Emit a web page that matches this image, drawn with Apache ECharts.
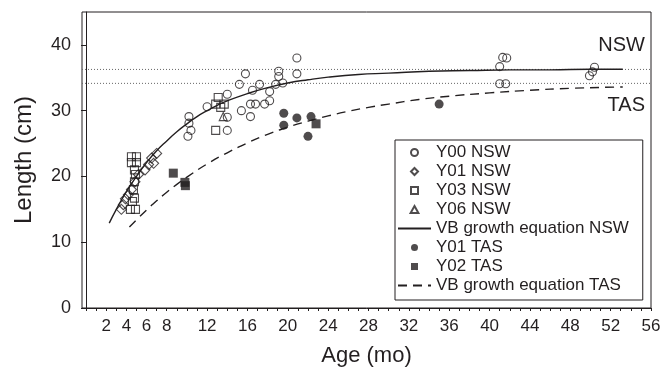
<!DOCTYPE html>
<html>
<head>
<meta charset="utf-8">
<script src="https://cdn.jsdelivr.net/npm/echarts@6/dist/echarts.min.js"></script>
<style>
  body { margin: 0; padding: 0; background: #fff; }
  #chart { width: 664px; height: 372px; }
</style>
</head>
<body>
<div id="chart"></div>
<script>
// Open markers (NSW cohorts): [age (mo), length (cm)]
var y00Nsw = [
  [10.2, 29.1], [10.2, 28.1], [10.4, 27.0], [10.1, 26.1], [12.0, 30.6],
  [14.0, 32.5], [14.0, 27.0], [14.0, 29.0], [15.4, 30.0], [16.3, 31.0],
  [16.8, 31.0], [16.3, 29.1], [17.7, 31.0], [18.2, 31.5], [18.2, 32.9],
  [16.5, 33.1], [15.2, 34.0], [15.8, 35.6], [17.2, 34.0], [18.8, 34.0],
  [19.1, 36.0], [19.1, 35.2], [19.5, 34.2], [20.9, 38.0], [20.9, 35.6],
  [41.3, 38.1], [41.7, 38.0], [41.0, 36.7], [41.0, 34.1], [41.6, 34.1],
  [50.4, 36.6], [50.2, 35.9], [49.9, 35.3]
];
var y01Nsw = [
  [3.5, 15.0], [3.7, 15.7], [3.9, 16.6], [4.2, 17.2], [4.5, 18.0],
  [4.85, 19.2], [5.2, 20.3], [5.85, 21.0], [6.2, 21.8], [6.5, 22.8],
  [6.7, 22.0], [7.0, 23.5]
];
var y03Nsw = [
  [4.5, 23.0], [5.0, 23.0], [4.5, 22.1], [5.0, 22.1], [4.8, 21.0],
  [4.9, 20.3], [4.8, 19.2], [4.7, 18.0], [4.8, 16.7], [4.6, 16.2],
  [4.4, 15.0], [4.9, 15.0], [12.85, 31.0], [13.7, 31.0], [13.1, 32.0],
  [13.35, 30.5], [12.85, 27.0]
];
var y06Nsw = [[13.6, 29.1]];

// Filled markers (TAS cohorts)
var y01Tas = [[19.6, 29.6], [19.6, 27.8], [20.9, 28.9], [22.0, 26.1], [22.3, 29.1], [35.0, 31.0]];
var y02Tas = [[8.65, 20.5], [9.8, 19.1], [9.85, 18.6], [22.8, 28.0]];

// VB growth curves
var nswCurveAge = [2.3, 3, 4, 5, 6, 7, 8, 9, 10, 11, 12, 13, 14, 16, 18, 20, 22, 24, 27, 30, 34, 38, 42, 46, 50, 53.2];
var nswCurveLen = [12.9, 15.0, 17.7, 20.0, 22.1, 23.9, 25.4, 26.8, 28.0, 29.1, 30.0, 30.8, 31.5, 32.6, 33.5, 34.2, 34.7, 35.1, 35.5, 35.7, 36.0, 36.1, 36.2, 36.2, 36.3, 36.3];
var tasCurveAge = [4.3, 5, 6, 7, 8, 9, 10, 12, 14, 16, 18, 20, 22, 24, 26, 28, 30, 33, 36, 40, 44, 48, 53.2];
var tasCurveLen = [12.3, 13.4, 14.9, 16.3, 17.6, 18.8, 19.9, 21.9, 23.6, 25.1, 26.4, 27.5, 28.4, 29.2, 29.9, 30.5, 31.0, 31.7, 32.2, 32.7, 33.1, 33.4, 33.6];

// asymptotes (dotted)
var nswLinf = 36.27;
var tasLinf = 34.15;

var xTickValues = [];
for (var t = 0; t <= 56; t++) xTickValues.push(t);
var xLabelValues = [2, 4, 6, 8, 12, 16, 20, 24, 28, 32, 36, 40, 44, 48, 52, 56];
var yLabelValues = [0, 10, 20, 30, 40];

var INK = '#231f20';
var FONT = 'Liberation Sans, Arial, sans-serif';
var X_MIN = -0.4, X_MAX = 56;

// square-aspect icons for the legend (built-ins get stretched to itemWidth)
var ICON_RECT = 'path://M0,0L10,0L10,10L0,10Z';
var ICON_DIAMOND = 'path://M5,0L10,5L5,10L0,5Z';
var ICON_TRIANGLE = 'path://M5,0L10,9L0,9Z';

function zip(xs, ys) {
  return xs.map(function (x, i) { return [x, ys[i]]; });
}

function openScatter(name, data, symbol, size) {
  return {
    name: name, type: 'scatter', data: data, symbol: symbol, symbolSize: size,
    itemStyle: { color: 'rgba(255,255,255,0)', borderColor: INK, borderWidth: 1.1 },
    z: 4
  };
}
function filledScatter(name, data, symbol, size) {
  return {
    name: name, type: 'scatter', data: data, symbol: symbol, symbolSize: size,
    itemStyle: { color: INK, borderColor: INK, borderWidth: 0 },
    z: 4
  };
}

var chart = echarts.init(document.getElementById('chart'));
chart.setOption({
  animation: false,
  textStyle: { fontFamily: FONT, color: INK },
  grid: {
    left: 82, right: 13, top: 12, bottom: 63,
    show: true, borderColor: INK, borderWidth: 1, backgroundColor: 'transparent'
  },
  xAxis: {
    type: 'value', min: X_MIN, max: X_MAX,
    name: 'Age (mo)', nameLocation: 'middle', nameGap: 37,
    nameTextStyle: { fontSize: 22, color: INK, fontFamily: FONT },
    axisLine: { lineStyle: { color: INK, width: 1 } },
    axisTick: { customValues: xTickValues, length: 3, lineStyle: { color: INK } },
    axisLabel: { customValues: xLabelValues, fontSize: 17, color: INK, margin: 10, fontFamily: FONT },
    splitLine: { show: false }
  },
  yAxis: {
    type: 'value', min: 0, max: 45,
    name: 'Length (cm)', nameLocation: 'middle', nameGap: 46,
    nameTextStyle: { fontSize: 24, color: INK, fontFamily: FONT },
    axisLine: { show: true, lineStyle: { color: INK, width: 1 } },
    axisTick: { customValues: yLabelValues, length: 5, lineStyle: { color: INK } },
    axisLabel: { customValues: yLabelValues, fontSize: 18, color: INK, margin: 11, fontFamily: FONT },
    splitLine: { show: false }
  },
  legend: {
    orient: 'vertical', left: 395, top: 140,
    padding: [3, 14, 5, 2],
    itemGap: 0, itemWidth: 33, itemHeight: 7,
    backgroundColor: '#fff', borderColor: INK, borderWidth: 1, borderRadius: 0,
    textStyle: { fontSize: 17, lineHeight: 19, color: INK, fontFamily: FONT },
    data: [
      { name: 'Y00 NSW' },
      { name: 'Y01 NSW', icon: ICON_DIAMOND },
      { name: 'Y03 NSW', icon: ICON_RECT },
      { name: 'Y06 NSW', icon: ICON_TRIANGLE },
      { name: 'VB growth equation NSW', itemStyle: { opacity: 0 } },
      { name: 'Y01 TAS' },
      { name: 'Y02 TAS', icon: ICON_RECT },
      { name: 'VB growth equation TAS', itemStyle: { opacity: 0 } }
    ]
  },
  graphic: [
    { type: 'text', right: 19, top: 35, style: { text: 'NSW', font: '20px ' + FONT, fill: INK } },
    { type: 'text', right: 19, top: 95, style: { text: 'TAS', font: '20px ' + FONT, fill: INK } }
  ],
  series: [
    {
      name: 'nswLinf', type: 'line', data: [[X_MIN, nswLinf], [X_MAX, nswLinf]],
      showSymbol: false, silent: true, z: 1,
      lineStyle: { color: '#666', width: 1, type: [1, 2] }
    },
    {
      name: 'tasLinf', type: 'line', data: [[X_MIN, tasLinf], [X_MAX, tasLinf]],
      showSymbol: false, silent: true, z: 1,
      lineStyle: { color: '#666', width: 1, type: [1, 2] }
    },
    openScatter('Y00 NSW', y00Nsw, 'circle', 8),
    openScatter('Y01 NSW', y01Nsw, 'diamond', 10),
    openScatter('Y03 NSW', y03Nsw, 'rect', 8),
    openScatter('Y06 NSW', y06Nsw, 'triangle', 8),
    {
      name: 'VB growth equation NSW', type: 'line', data: zip(nswCurveAge, nswCurveLen),
      smooth: true, showSymbol: false, symbol: 'none', z: 3,
      lineStyle: { color: INK, width: 1.4 }, itemStyle: { color: INK }
    },
    filledScatter('Y01 TAS', y01Tas, 'circle', 9),
    filledScatter('Y02 TAS', y02Tas, 'rect', 9),
    {
      name: 'VB growth equation TAS', type: 'line', data: zip(tasCurveAge, tasCurveLen),
      smooth: true, showSymbol: false, symbol: 'none', z: 3,
      lineStyle: { color: INK, width: 1.4, type: [9, 6] }, itemStyle: { color: INK }
    }
  ]
});
</script>
</body>
</html>
